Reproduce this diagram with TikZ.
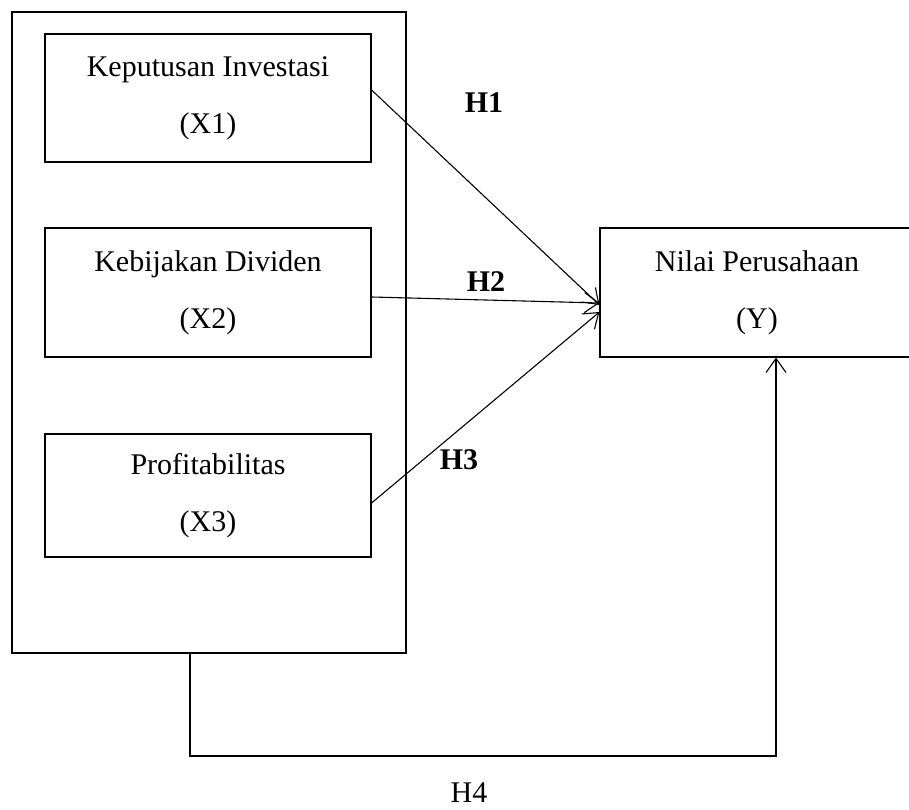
\documentclass[tikz,border=0pt]{standalone}
\usepackage{fontspec}
\setmainfont{Liberation Serif}
\usetikzlibrary{arrows.meta}
\tikzset{
  varbox/.style={draw, line width=1.1pt, minimum width=326pt, minimum height=128pt,
    align=center, inner sep=0pt, font=\fontsize{30}{57}\selectfont},
  hyp/.style={line width=1.1pt, -{Straight Barb[length=14pt,width=20pt,line width=1.1pt]}},
  hlabel/.style={font=\fontsize{30}{36}\selectfont\bfseries}
}

\begin{document}
\begin{tikzpicture}[x=1pt, y=-1pt]
	\useasboundingbox (0,0) rectangle (909,810);
	% independent variables inside one frame
	\node[draw, line width=1.1pt, minimum width=394pt, minimum height=641pt, inner sep=0pt] (frame) at (209,332.5) {};
	\node[varbox] (x1) at (208,98) {Keputusan Investasi\\(X1)};
	\node[varbox, minimum height=129pt] (x2) at (208,292.5) {Kebijakan Dividen\\(X2)};
	\node[varbox, minimum height=123pt] (x3) at (208,495.5) {Profitabilitas\\(X3)};
	% dependent variable
	\node[varbox, minimum width=314pt, minimum height=129pt] (ny) at (757,292.5) {Nilai Perusahaan\\(Y)};
	% partial hypotheses
	\draw[hyp] ([yshift=8pt]x1.east) -- ([yshift=-12.5pt]ny.west);
	\draw[hyp] ([yshift=-4.5pt]x2.east) -- ([yshift=-10.5pt]ny.west);
	\draw[hyp] ([yshift=-7.5pt]x3.east) -- ([yshift=-19.5pt]ny.west);
	\node[hlabel] (h1) at (484,103) {H1};
	\node[hlabel] (h2) at (486,282) {H2};
	\node[hlabel] (h3) at (459,460) {H3};
	% simultaneous hypothesis
	\coordinate (bend) at (480,756);
	\draw[hyp] ([xshift=-19pt]frame.south) |- (bend) -| ([xshift=19pt]ny.south);
	\node[font=\fontsize{30}{36}\selectfont, inner sep=0pt] (h4) at (469,793) {H4};
\end{tikzpicture}
\end{document}
